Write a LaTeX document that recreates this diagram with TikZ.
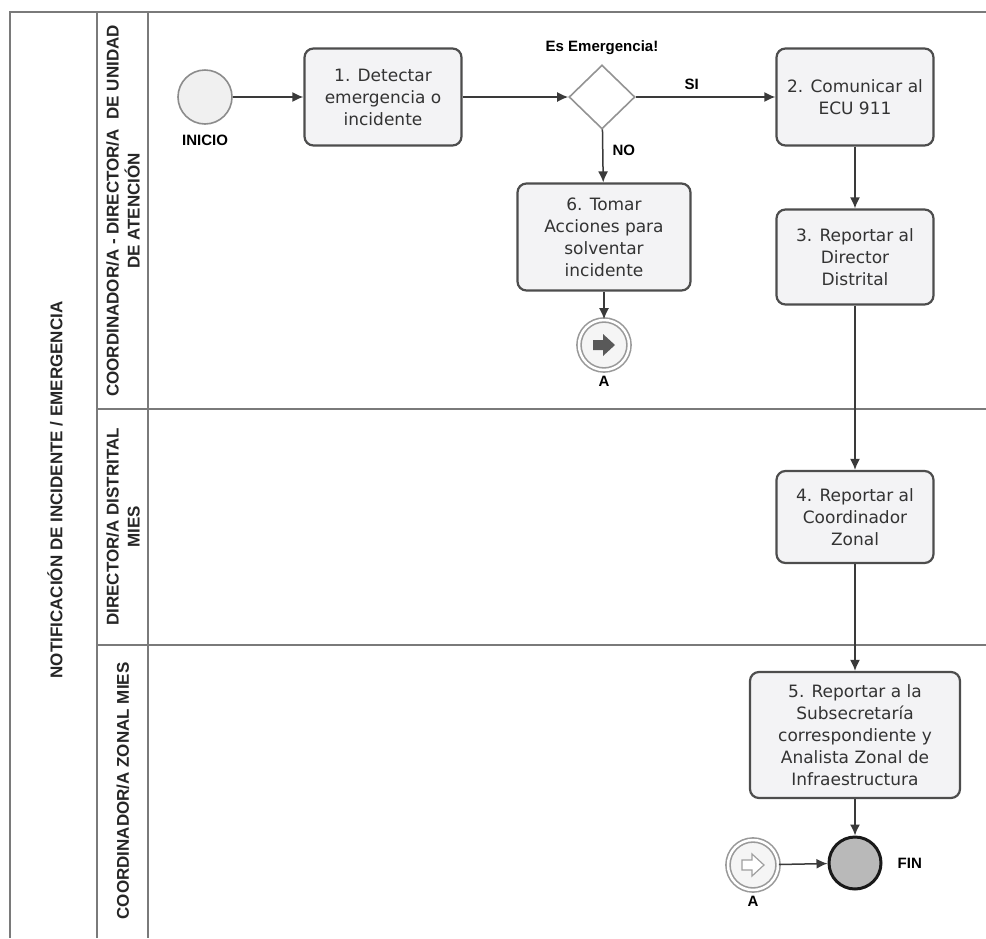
\documentclass[tikz,border=0pt]{standalone}
\usepackage{fontspec}
\setmainfont{DejaVu Sans}
\newfontfamily\lblfont{Liberation Sans}
\usepackage{tikz}
\usetikzlibrary{shapes.geometric,arrows.meta,positioning}
\definecolor{taskfill}{HTML}{F3F3F5}
\definecolor{taskdraw}{HTML}{4D4D4D}
\definecolor{lanedraw}{HTML}{7A7A7A}
\definecolor{flowline}{HTML}{3A3A3A}
\tikzset{
  task/.style = {rectangle, rounded corners=9pt, draw=taskdraw, line width=2.2pt, fill=taskfill,
    align=center, inner sep=0pt, text=black!80, font=\fontsize{17}{22}\selectfont},
  startev/.style = {circle, draw=gray!90, line width=1.6pt, fill=gray!12, minimum size=54pt, inner sep=0pt},
  endev/.style = {circle, draw=black!90, line width=3pt, fill=gray!55, minimum size=52pt, inner sep=0pt},
  linkev/.style = {circle, draw=gray!80, line width=1.6pt, fill=gray!8, minimum size=50pt, inner sep=0pt,
    double=white, double distance=2.5pt},
  gateway/.style = {diamond, draw=gray!85, line width=1.6pt, fill=white, minimum width=66pt, minimum height=64pt, inner sep=0pt},
  lbl/.style = {font=\lblfont\bfseries\fontsize{15}{17}\selectfont, inner sep=1pt},
  lanelbl/.style = {font=\lblfont\bfseries\fontsize{17}{21}\selectfont, align=center, rotate=90, text=black!85},
  flow/.style = {draw=flowline, line width=1.5pt, -{Latex[length=11pt,width=10pt]}},
  lane/.style = {draw=lanedraw, line width=1.8pt}
}

\begin{document}
\begin{tikzpicture}[x=1pt,y=-1pt]
\useasboundingbox (0,0) rectangle (986,938);
\draw[lane] (986,12) -- (10,12) -- (10,938);
\draw[lane] (97,12) -- (97,938);
\draw[lane] (148,12) -- (148,938);
\draw[lane] (97,409) -- (986,409);
\draw[lane] (97,645) -- (986,645);

\node [lanelbl] (pool) at (55,490) {NOTIFICACIÓN DE INCIDENTE / EMERGENCIA};
\node [lanelbl] (laneA) at (123,211) {COORDINADOR/A - DIRECTOR/A \ DE UNIDAD\\DE ATENCIÓN};
\node [lanelbl] (laneB) at (123,527) {DIRECTOR/A DISTRITAL\\MIES};
\node [lanelbl] (laneC) at (123,791) {COORDINADOR/A ZONAL MIES};

\node [startev] (start) at (205,97) {};
\node [lbl, below=9pt of start] (startlbl) {INICIO};
\node [task, minimum width=157pt, minimum height=97pt] (detect) at (383,97) {1. Detectar\\emergencia o\\incidente};
\node [gateway] (gw) at (602,97) {};
\node [lbl, above=8pt of gw] (gwlbl) {Es Emergencia!};
\node [task, minimum width=157pt, minimum height=97pt] (ecu) at (855,97) {2. Comunicar al\\ECU 911};
\node [task, minimum width=173pt, minimum height=107pt] (actions) at (604,237) {6. Tomar\\Acciones para\\solventar\\incidente};
\node [linkev] (linkout) at (604,345) {};
\fill [gray!70!black] (linkout.center) ++(-11,-5) -- ++(10,0) -- ++(0,-6) -- ++(12,11) -- ++(-12,11) -- ++(0,-6) -- ++(-10,0) -- cycle;
\node [lbl, below=4pt of linkout] (linkoutlbl) {A};
\node [task, minimum width=157pt, minimum height=95pt] (director) at (855,257) {3. Reportar al\\Director\\Distrital};
\node [task, minimum width=157pt, minimum height=92pt] (zonal) at (855,517) {4. Reportar al\\Coordinador\\Zonal};
\node [task, minimum width=210pt, minimum height=126pt] (subsec) at (855,735) {5. Reportar a la\\Subsecretaría\\correspondiente y\\Analista Zonal de\\Infraestructura};
\node [endev] (fin) at (855,863) {};
\node [lbl, right=14pt of fin] (finlbl) {FIN};
\node [linkev] (linkin) at (753,865) {};
\draw [gray!75, line width=1.2pt, fill=white] (linkin.center) ++(-11,-5) -- ++(10,0) -- ++(0,-6) -- ++(12,11) -- ++(-12,11) -- ++(0,-6) -- ++(-10,0) -- cycle;
\node [lbl, below=4pt of linkin] (linkinlbl) {A};

\draw [flow] (start) -- (detect);
\draw [flow] (detect) -- (gw);
\draw [flow] (gw) -- node [lbl, above=6pt, pos=0.4] (si) {SI} (ecu);
\draw [flow] (gw) -- node [lbl, right=8pt, pos=0.4] (no) {NO} (actions);
\draw [flow] (actions) -- (linkout);
\draw [flow] (ecu) -- (director);
\draw [flow] (director) -- (zonal);
\draw [flow] (zonal) -- (subsec);
\draw [flow] (subsec) -- (fin);
\draw [flow] (linkin) -- (fin);
\end{tikzpicture}
\end{document}
